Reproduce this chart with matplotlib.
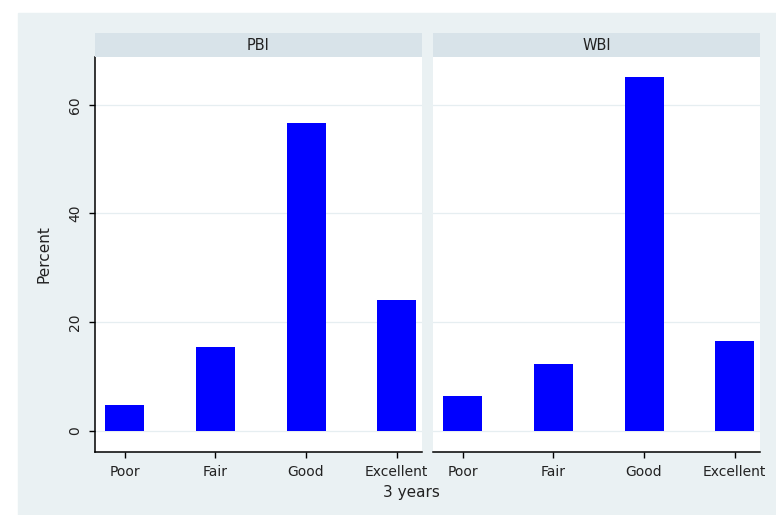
import matplotlib.pyplot as plt
from matplotlib.patches import Rectangle

plt.rcParams['font.family'] = ['DejaVu Sans']

# Data
categories = ['Poor', 'Fair', 'Good', 'Excellent']
panels = ['PBI', 'WBI']
pbi = [4.8, 15.5, 56.7, 24.1]
wbi = [6.4, 12.3, 65.2, 16.6]
values = [pbi, wbi]
yticks = [0, 20, 40, 60]

bg = '#EAF1F3'
strip_col = '#D8E3E9'
txt = '#222222'

fig = plt.figure(figsize=(7.76, 5.15), dpi=100)
fig.patch.set_facecolor('white')
fig.patches.append(Rectangle((18 / 776, 0), 1 - 18 / 776, 1 - 13 / 515,
                             transform=fig.transFigure, color=bg, zorder=-10))

lefts = [95 / 776, 433 / 776]
w = 327 / 776
bottom = 1 - 452 / 515
h = 395 / 515
sh = 24 / 515

x = list(range(1, len(categories) + 1))
for i, (name, vals) in enumerate(zip(panels, values)):
    ax = fig.add_axes([lefts[i], bottom, w, h])
    ax.set_facecolor('white')
    ax.bar(x, vals, width=0.43, color='#0000FF', zorder=3)
    ax.set_xlim(0.67, 4.28)
    ax.set_ylim(-3.9, 68.8)
    ax.set_yticks(yticks)
    for yv in yticks:
        ax.axhline(yv, color='#E6EEF1', lw=0.9, zorder=1)
    ax.set_xticks(x)
    ax.set_xticklabels(categories, fontsize=10, color=txt)
    ax.tick_params(axis='x', length=4, width=1, direction='out', pad=5)
    for s in ['top', 'right']:
        ax.spines[s].set_visible(False)
    ax.spines['bottom'].set_linewidth(1.1)
    if i == 0:
        ax.set_yticklabels([str(t) for t in yticks], fontsize=10, color=txt,
                           rotation=90, va='center')
        ax.tick_params(axis='y', length=4, width=1, direction='out', pad=5)
        ax.spines['left'].set_linewidth(1.1)
        ax.set_ylabel('Percent', fontsize=11, color=txt, labelpad=12)
    else:
        ax.spines['left'].set_visible(False)
        ax.tick_params(axis='y', length=0, labelleft=False)

    sax = fig.add_axes([lefts[i], bottom + h, w, sh])
    sax.set_facecolor(strip_col)
    sax.set_xticks([])
    sax.set_yticks([])
    for s in sax.spines.values():
        s.set_visible(False)
    sax.text(0.5, 0.5, name, ha='center', va='center', fontsize=10.5,
             color=txt, transform=sax.transAxes)

fig.text(411 / 776, 1 - 493 / 515, '3 years', ha='center',
         va='center', fontsize=11, color=txt)

fig.savefig('out.png', dpi=100, facecolor=fig.get_facecolor())
